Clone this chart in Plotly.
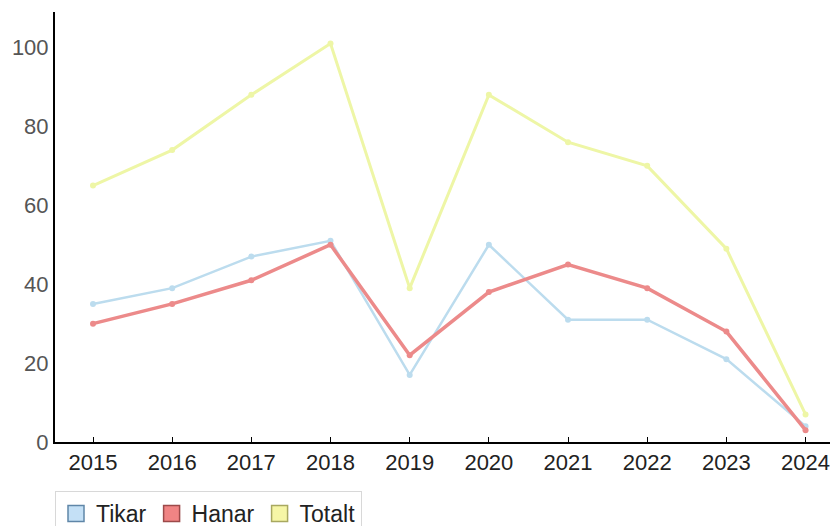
import plotly.graph_objects as go

years = [2015, 2016, 2017, 2018, 2019, 2020, 2021, 2022, 2023, 2024]
tikar = [35, 39, 47, 51, 17, 50, 31, 31, 21, 4]
hanar = [30, 35, 41, 50, 22, 38, 45, 39, 28, 3]
totalt = [65, 74, 88, 101, 39, 88, 76, 70, 49, 7]
series_names = ["Tikar", "Hanar", "Totalt"]

line_colors = ["#bcdcee", "#ec8a8a", "#eef6a6"]
line_widths = [2.5, 3.5, 3]
fill_colors = ["#c4e0f6", "#f08484", "#f6f6a6"]
border_colors = ["#5f86a8", "#9c4a4a", "#a8a860"]

fig = go.Figure()
for name, vals, lc, lw in zip(series_names, [tikar, hanar, totalt], line_colors, line_widths):
    fig.add_trace(go.Scatter(x=years, y=vals, mode="lines+markers", name=name,
                             line=dict(color=lc, width=lw),
                             marker=dict(color=lc, size=6),
                             showlegend=False))
# legend entries as square swatches
for name, fc, bc in zip(series_names, fill_colors, border_colors):
    fig.add_trace(go.Scatter(x=[None], y=[None], mode="markers", name=name,
                             marker=dict(symbol="square", size=20, color=fc,
                                         line=dict(color=bc, width=1.5))))

# page body has an 8px margin, so the figure is drawn 8px in from top-left
fig.update_layout(
    width=830, height=518,
    margin=dict(l=47, r=0, t=4, b=84, autoexpand=False),
    paper_bgcolor="white", plot_bgcolor="white",
    font=dict(family="Liberation Sans, Arial, sans-serif", size=22, color="#222"),
    legend=dict(orientation="h", x=0, xanchor="left", y=-0.114, yanchor="top",
                bordercolor="#d8d8d8", borderwidth=1, font=dict(size=23, color="#222"),
                itemsizing="trace", tracegroupgap=0),
    xaxis=dict(range=[2014.52, 2024.41], tickvals=years, ticktext=[str(y) for y in years],
               showline=True, linecolor="black", linewidth=2, ticks="inside",
               ticklen=5, tickcolor="black", showgrid=False, zeroline=False,
               tickfont=dict(color="#222", size=22)),
    yaxis=dict(range=[0, 109], tickvals=[0, 20, 40, 60, 80, 100],
               showline=True, linecolor="black", linewidth=2, ticks="",
               showgrid=False, zeroline=False,
               tickfont=dict(color="#555", size=22)),
)

fig.write_html("out.html")
